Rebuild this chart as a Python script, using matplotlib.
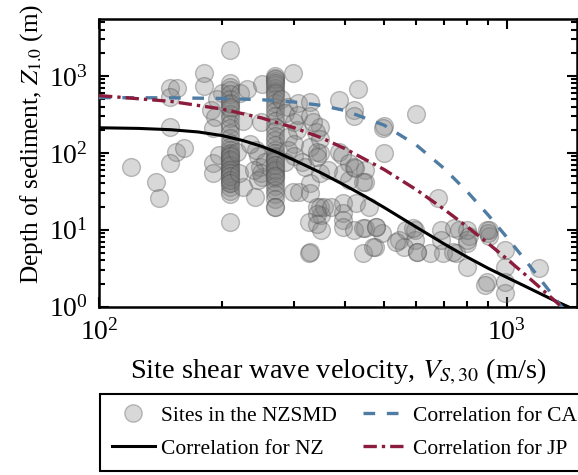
import matplotlib
matplotlib.use("Agg")
import matplotlib.pyplot as plt
from matplotlib.lines import Line2D

plt.rcParams['font.family'] = ['Liberation Serif', 'DejaVu Serif']
plt.rcParams['mathtext.fontset'] = 'stix'

# site data (Vs30 in m/s, Z1.0 in m)
site_vs30 = [
    120, 138, 140, 149, 155, 149, 149, 154, 162, 149, 181, 181, 188, 192, 190,
    190, 190, 197, 200, 195,
    210, 210, 210, 210, 210, 210, 210, 210, 210, 210, 210, 210, 210, 210, 210,
    210, 210, 210, 210, 210, 210, 210, 210, 210, 210, 210, 210, 210, 210, 210,
    210, 210, 210, 210, 210, 210, 210, 210, 210, 210, 210, 210,
    218, 225, 222, 225, 220, 230,
    241, 251, 248, 251, 245, 242, 255, 250, 240, 245, 235, 250,
    270, 270, 270, 270, 270, 270, 270, 270, 270, 270, 270, 270, 270, 270, 270,
    270, 270, 270, 270, 270, 270, 270, 270, 270, 270, 270, 270, 270, 270, 270,
    270, 270, 270, 270, 270, 270, 270, 270, 270, 270, 270, 270,
    299, 280, 290, 285, 300, 305, 290, 300, 290, 300, 285, 299, 310, 329, 329,
    307, 307, 329, 329, 348, 348, 348, 329, 340, 348, 335, 315, 320,
    387, 421, 421, 431, 387, 395, 409, 421, 448, 409, 448, 396, 500, 500, 597,
    676, 327, 327, 350, 350, 348, 396, 426, 459, 396, 396, 396, 443, 474, 421,
    448, 477, 494, 544, 559, 565, 594, 594, 601, 649, 697, 749, 689, 689, 762,
    808, 798, 903, 903, 798, 894, 990, 990, 990, 990, 1200, 885,
    497, 343, 343, 424, 365, 443, 343, 357, 370, 343, 343, 443, 478, 588, 798,
    894, 899, 329, 469, 536, 601, 739, 798, 742,
]
site_z1 = [
    66, 42, 26, 700, 700, 530, 217, 102, 115, 74, 1100, 740, 360, 290, 210,
    74, 55, 95, 600, 500,
    2170, 800, 720, 650, 580, 500, 430, 370, 320, 280, 240, 210, 180, 155, 135,
    120, 108, 98, 90, 82, 75, 68, 62, 56, 50, 45, 40, 36, 32, 29,
    12.6, 100, 90, 80, 70, 60, 55, 50, 45, 40, 450, 400,
    102, 36, 600, 260, 55, 680,
    27, 48, 66, 785, 90, 110, 75, 55, 60, 45, 130, 250,
    1000, 930, 850, 770, 700, 630, 560, 500, 450, 400, 350, 300, 260, 220, 190,
    165, 145, 125, 110, 100, 92, 85, 78, 70, 63, 57, 52, 47, 42, 37,
    33, 29, 25, 20, 20, 900, 800, 600, 80, 70, 60, 50,
    1100, 500, 400, 330, 250, 200, 160, 130, 110, 90, 75, 31, 31, 40, 30,
    440, 310, 460, 300, 217, 55, 99, 120, 186, 150, 250, 75, 65,
    490, 360, 300, 680, 102, 93, 74, 66, 60, 44, 42, 55, 223, 99, 320,
    26, 5.0, 12.6, 10, 15.6, 19.5, 22, 22, 20, 16.6, 13.4, 10.8, 5, 6, 10,
    10.6, 10.8, 9, 7.4, 6, 10, 10, 7.4, 5.1, 5, 5, 5, 10, 7.4, 10,
    8.2, 6.7, 10, 8.2, 3.3, 2.1, 5.5, 3.3, 2.1, 1.5, 3.2, 1.9,
    210, 102, 88, 63, 60, 42, 20, 20, 20, 16, 12, 10.5, 10.8, 10.5, 10,
    10, 9, 5.1, 6, 7, 5.1, 5.1, 7.3, 10.5,
]

# correlation curves
vs_curve = [100, 150, 200, 250, 300, 350, 400, 500, 600, 700, 800, 900,
            1000, 1100, 1200, 1300, 1400]
z_ca = [523, 519, 510, 491, 459, 415, 356, 229, 126, 63.3, 31.1, 15.5,
        7.95, 4.25, 2.36, 1.37, 0.82]
z_jp = [556, 467, 372, 285, 213, 158, 114, 60.7, 33.1, 18.6, 10.9, 6.63,
        4.17, 2.71, 1.81, 1.24, 0.87]
vs_nz = [100, 125, 150, 175, 200, 225, 250, 275, 300, 350, 400, 450, 500,
         600, 700, 800, 900, 1000, 1100, 1200, 1300, 1412]
z_nz = [212, 208, 200, 187, 168, 145, 122, 100, 81, 55, 38, 27, 19.5,
        10.8, 6.6, 4.4, 3.15, 2.4, 1.88, 1.5, 1.22, 1.0]

fig = plt.figure(figsize=(5.78, 4.75), dpi=100)
ax = fig.add_axes([0.1713, 0.3543, 0.827, 0.6057])

ax.scatter(site_vs30, site_z1, s=165, facecolor=(0.5, 0.5, 0.5, 0.3),
           edgecolor=(0.3, 0.3, 0.3, 0.35), linewidth=1, zorder=2)
ax.plot(vs_nz, z_nz, color='black', lw=2.2, zorder=3)
ax.plot(vs_curve, z_ca, color='#4f7ca3', lw=2.4, ls=(0, (3.5, 3.5)), zorder=3)
ax.plot(vs_curve, z_jp, color='#8b1c3c', lw=2.4,
        ls=(0, (4, 1.5, 1, 1.5)), zorder=3)

ax.set_xscale('log')
ax.set_yscale('log')
ax.set_xlim(100, 1485)
ax.set_ylim(1, 5500)

for s in ax.spines.values():
    s.set_linewidth(1.8)
ax.tick_params(which='both', direction='in', top=True, right=True,
               labelsize=20, width=1.5)
ax.tick_params(which='major', length=7)
ax.tick_params(which='minor', length=4)
ax.tick_params(axis='x', which='major', pad=9)
ax.tick_params(axis='y', which='major', pad=8)

ax.set_xlabel(r'Site shear wave velocity, $\mathit{V}_{\mathit{S,30}}$ (m/s)',
              fontsize=20.5, labelpad=8)
ax.set_ylabel(r'Depth of sediment, $\mathit{Z}_{\mathit{1.0}}$ (m)',
              fontsize=18.2)
ax.yaxis.set_label_coords(-0.113, 0.565)

handles = [
    Line2D([], [], ls='none', marker='o', markersize=12.5,
           markerfacecolor=(0.5, 0.5, 0.5, 0.3),
           markeredgecolor=(0.3, 0.3, 0.3, 0.35)),
    Line2D([], [], color='black', lw=2.2),
    Line2D([], [], color='#4f7ca3', lw=2.4, ls=(0, (3.5, 3.5))),
    Line2D([], [], color='#8b1c3c', lw=2.4, ls=(0, (4, 1.5, 1, 1.5))),
]
labels = ['Sites in the NZSMD', 'Correlation for NZ',
          'Correlation for CA', 'Correlation for JP']
leg = fig.legend(handles, labels, ncol=2, loc='upper left',
                 bbox_to_anchor=(0.173, 0.1705), borderaxespad=0,
                 fontsize=15.5, frameon=True, fancybox=False,
                 edgecolor='black', framealpha=1, handlelength=2.0,
                 handletextpad=0.3, columnspacing=1.2, labelspacing=0.6,
                 borderpad=0.55)
leg.get_frame().set_linewidth(1.5)

fig.savefig('out.png', dpi=100)
